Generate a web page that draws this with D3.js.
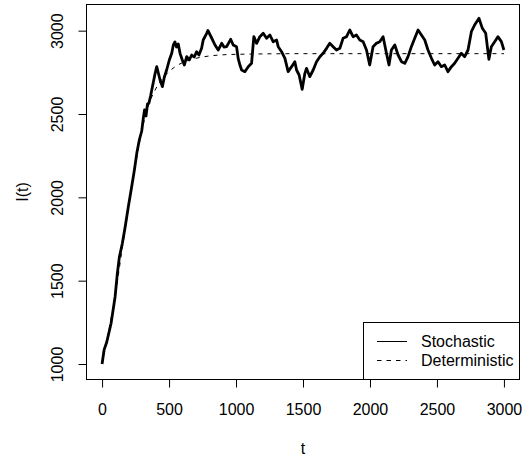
<!DOCTYPE html>
<html>
<head>
<meta charset="utf-8">
<script src="https://cdn.jsdelivr.net/npm/d3@7"></script>
<style>
  body { margin: 0; background: #fff; }
  svg { display: block; font-family: "Liberation Sans", Arial, sans-serif; }
</style>
</head>
<body>
<svg width="522" height="458"></svg>
<script>
// stochastic path
var stochT = [0,15,35,67,97,114,129,151,172,196,
  221,241,259,278,296,308,317,328,339,350,
  362,371,383,395,408,420,433,450,465,482,
  502,520,532,544,556,569,582,599,614,632,
  651,669,688,706,723,743,755,781,790,818,
  843,867,893,910,930,960,979,1004,1016,1029,
  1042,1066,1091,1116,1133,1154,1178,1203,1228,1253,
  1277,1303,1315,1340,1365,1389,1415,1439,1452,1471,
  1494,1514,1526,1551,1576,1601,1626,1650,1676,1700,
  1725,1750,1775,1799,1825,1849,1874,1899,1924,1949,
  1974,1998,2023,2048,2073,2098,2123,2142,2160,2185,
  2210,2235,2260,2284,2309,2334,2359,2384,2409,2433,
  2459,2483,2508,2533,2558,2582,2608,2632,2657,2682,
  2707,2732,2757,2781,2814,2839,2864,2888,2906,2931,
  2955,2981,3000];
var stochI = [1000,1085,1132,1243,1402,1543,1641,1723,1821,1943,
  2063,2163,2264,2344,2398,2476,2524,2488,2560,2566,
  2608,2644,2692,2740,2784,2746,2704,2664,2722,2764,
  2824,2864,2914,2932,2902,2920,2864,2824,2794,2844,
  2824,2854,2842,2874,2854,2894,2944,2984,3001,2956,
  2914,2884,2924,2902,2904,2948,2914,2904,2834,2794,
  2764,2754,2784,2804,2964,2924,2964,2984,2954,2974,
  2934,2944,2904,2874,2834,2754,2784,2814,2764,2734,
  2648,2744,2774,2724,2764,2814,2844,2864,2894,2924,
  2904,2884,2894,2954,2964,3004,2964,2974,2944,2934,
  2884,2794,2904,2924,2934,2964,2864,2794,2884,2914,
  2854,2814,2804,2844,2904,2954,3004,2974,2944,2884,
  2834,2794,2814,2784,2794,2754,2784,2804,2834,2864,
  2844,2884,2994,3034,3074,3014,2984,2828,2904,2934,
  2964,2934,2884];

// deterministic curve
var detT = [0,50,100,150,200,250,300,350,400,450,500,550,600,700,800,1000,1500,2000,2500,3000];
var detI = [1000,1200,1420,1690,1950,2200,2410,2560,2650,2712,2755,2786,2808,2834,2848,2858,2862,2862,2862,2862];

var xTicks = [0,500,1000,1500,2000,2500,3000];
var yTicks = [1000,1500,2000,2500,3000];
var legendLabels = ["Stochastic","Deterministic"];

var svg = d3.select("svg"),
    pLeft = 86, pRight = 520, pTop = 4, pBottom = 380;

var x = d3.scaleLinear().domain([-120, 3120]).range([pLeft, pRight]);
var y = d3.scaleLinear().domain([904, 3160]).range([pBottom, pTop]);

var line = d3.line()
    .x(function(d) { return x(d[0]); })
    .y(function(d) { return y(d[1]); });

svg.append("path")
    .datum(d3.zip(detT, detI))
    .attr("fill", "none")
    .attr("stroke", "#000")
    .attr("stroke-width", 1)
    .attr("stroke-dasharray", "4,5")
    .attr("d", line.curve(d3.curveMonotoneX));

svg.append("path")
    .datum(d3.zip(stochT, stochI))
    .attr("fill", "none")
    .attr("stroke", "#000")
    .attr("stroke-width", 2.8)
    .attr("stroke-linejoin", "round")
    .attr("d", line.curve(d3.curveLinear));

// box
svg.append("rect")
    .attr("x", pLeft + 0.5).attr("y", pTop + 0.5)
    .attr("width", pRight - pLeft - 1).attr("height", pBottom - pTop - 1)
    .attr("fill", "none").attr("stroke", "#000");

// x axis
var gx = svg.append("g").attr("transform", "translate(0," + (pBottom - 0.5) + ")")
    .call(d3.axisBottom(x).tickValues(xTicks).tickSize(8).tickSizeOuter(0).tickFormat(d3.format("d")));
gx.select(".domain").remove();
gx.selectAll("text").attr("y", 35.5).attr("dy", null)
    .attr("font-size", 16).attr("font-family", "Liberation Sans, Arial, sans-serif").attr("fill", "#000");

// y axis
var gy = svg.append("g").attr("transform", "translate(" + (pLeft + 0.5) + ",0)")
    .call(d3.axisLeft(y).tickValues(yTicks).tickSize(8).tickSizeOuter(0).tickFormat(d3.format("d")));
gy.select(".domain").remove();
gy.selectAll(".tick text").remove();
gy.selectAll(".tick").append("text")
    .attr("transform", "translate(-29,0) rotate(-90)")
    .attr("dy", "0.35em")
    .attr("text-anchor", "middle")
    .attr("font-size", 16)
    .attr("font-family", "Liberation Sans, Arial, sans-serif")
    .attr("fill", "#000")
    .text(function(d) { return d; });

// axis titles
svg.append("text")
    .attr("x", (pLeft + pRight) / 2).attr("y", 454)
    .attr("text-anchor", "middle").attr("font-size", 16)
    .text("t");
svg.append("text")
    .attr("transform", "translate(22.5," + ((pTop + pBottom) / 2) + ") rotate(-90)")
    .attr("dy", "0.35em")
    .attr("text-anchor", "middle").attr("font-size", 16)
    .text("I(t)");

// legend
var lg = svg.append("g");
lg.append("rect")
    .attr("x", 363.5).attr("y", 322.5)
    .attr("width", pRight - 0.5 - 363.5).attr("height", pBottom - 0.5 - 322.5)
    .attr("fill", "#fff").attr("stroke", "#000");
var rows = lg.selectAll("g.row").data(legendLabels).enter().append("g")
    .attr("transform", function(d, i) { return "translate(0," + (341.5 + i * 19) + ")"; });
rows.append("line")
    .attr("x1", 377).attr("x2", 407)
    .attr("stroke", "#000").attr("stroke-width", 1)
    .attr("stroke-dasharray", function(d, i) { return i ? "4.5,5" : null; });
rows.append("text")
    .attr("x", 421).attr("dy", "0.35em")
    .attr("font-size", 16)
    .text(function(d) { return d; });
</script>
</body>
</html>
